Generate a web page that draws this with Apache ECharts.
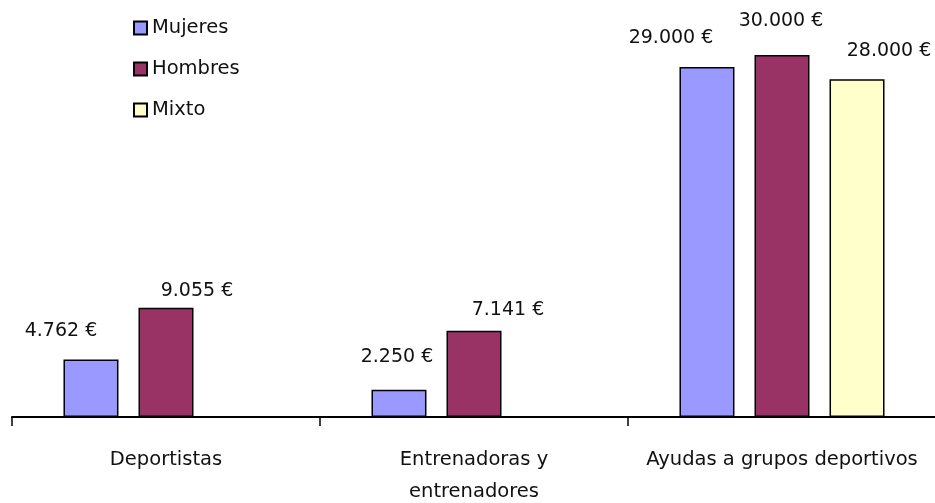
<!DOCTYPE html>
<html><head><meta charset="utf-8">
<script src="https://cdn.jsdelivr.net/npm/echarts@6/dist/echarts.min.js"></script>
<style>html,body{margin:0;padding:0;background:#fff}#c{width:935px;height:503px}</style>
</head><body><div id="c"></div>
<script>
var categories = ['Deportistas', 'Entrenadoras y\nentrenadores', 'Ayudas a grupos deportivos'];
var seriesNames = ['Mujeres', 'Hombres', 'Mixto'];
var mujeres = [4762, 2250, 29000];
var hombres = [9055, 7141, 30000];
var mixto = [null, null, 28000];

var colors = ['#9999FF', '#993366', '#FFFFCC'];
var labelOffsets = [
  [[-30, -18], [-2, -23], [-36, -19]],
  [[31, -7], [34, -11], [-1, -24]],
  [[0, 0], [0, 0], [32, -18]]
];
var FONT = 'DejaVu Sans';
function fmt(v) { return String(v).replace(/\B(?=(\d{3})+(?!\d))/g, '.') + ' \u20ac'; }

var values = [mujeres, hombres, mixto];
var series = values.map(function (arr, si) {
  return {
    name: seriesNames[si],
    type: 'bar',
    barWidth: 55,
    barGap: '36.4%',
    itemStyle: { color: colors[si], borderColor: '#000', borderWidth: 1.5 },
    label: {
      show: true, position: 'top', distance: 0,
      fontFamily: FONT, fontSize: 19, color: '#111', lineHeight: 20,
      formatter: function (p) { return fmt(p.value); }
    },
    data: arr.map(function (v, i) {
      return v == null ? '-' : { value: v, label: { offset: labelOffsets[si][i] } };
    })
  };
});

var chart = echarts.init(document.getElementById('c'));
chart.setOption({
  animation: false,
  backgroundColor: '#fff',
  legend: {
    orient: 'vertical', left: 128, top: 13,
    itemWidth: 13, itemHeight: 13, itemGap: 21,
    icon: 'rect',
    textStyle: { fontFamily: FONT, fontSize: 19.5, color: '#111', lineHeight: 19 },
    data: seriesNames
  },
  grid: { left: 12, right: -1, top: 55, bottom: 86, containLabel: false, outerBoundsMode: 'none' },
  xAxis: {
    type: 'category', data: categories,
    axisLine: { lineStyle: { color: '#000', width: 2 } },
    axisTick: { show: true, length: 9, lineStyle: { color: '#000', width: 1.5 } },
    axisLabel: { fontFamily: FONT, fontSize: 19.5, color: '#111', margin: 27, lineHeight: 32, interval: 0 }
  },
  yAxis: { type: 'value', min: 0, max: 30000, show: false, splitLine: { show: false } },
  series: series
});
</script></body></html>
